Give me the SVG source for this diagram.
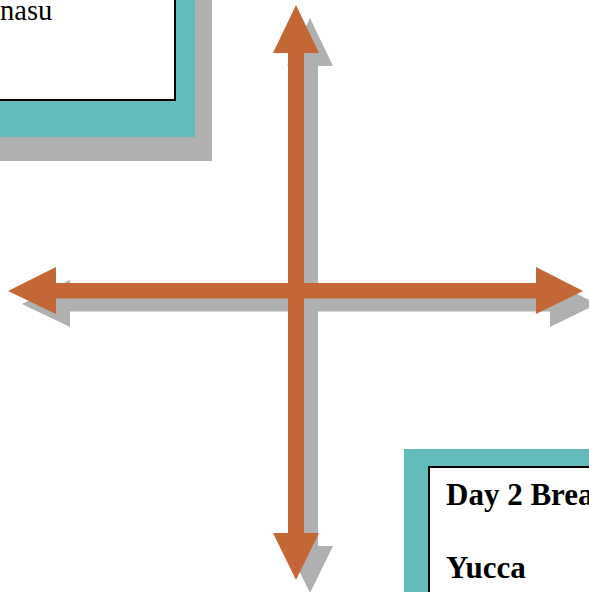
<svg xmlns="http://www.w3.org/2000/svg" width="589" height="592" viewBox="0 0 589 592">
<style>
.shadow{fill:#AFB0AF}
.frame{fill:#63BCB9}
.card{fill:#FFFFFF;stroke:#000000;stroke-width:2}
.arrow{fill:#C46737}
.ashadow{fill:#AFB0AF}
.txt{font-family:"Liberation Serif","Times New Roman",serif;fill:#000000}
.b{font-weight:bold}
</style>
<rect width="589" height="592" fill="#FFFFFF"/>
<g id="box-top-left">
<rect class="shadow" x="-100" y="-100" width="312" height="261"/>
<rect class="frame" x="-100" y="-100" width="295" height="237"/>
<rect class="card" x="-100" y="-100" width="275" height="200"/>
<text class="txt" x="0" y="20" font-size="28.5">nasu</text>
</g>
<g id="box-bottom-right">
<rect class="shadow" x="421" y="473" width="300" height="300"/>
<rect class="frame" x="404" y="449" width="300" height="300"/>
<rect class="card" x="429" y="467" width="300" height="300"/>
<text class="txt b" x="446" y="505" font-size="31">Day 2 Brea</text>
<text class="txt b" x="446" y="578" font-size="31">Yucca</text>
</g>
<g id="connectors">
<g transform="translate(14,13)">
<polygon class="ashadow" points="296,5 319,53 304,53 304,533 319,533 296,580 273,533 288,533 288,53 273,53"/>
<polygon class="ashadow" points="8,291 56,267 56,283 536,283 536,267 583,291 536,314 536,298.5 56,298.5 56,314"/>
</g>
<polygon class="arrow" points="296,5 319,53 304,53 304,533 319,533 296,580 273,533 288,533 288,53 273,53"/>
<polygon class="arrow" points="8,291 56,267 56,283 536,283 536,267 583,291 536,314 536,298.5 56,298.5 56,314"/>
</g>
</svg>
